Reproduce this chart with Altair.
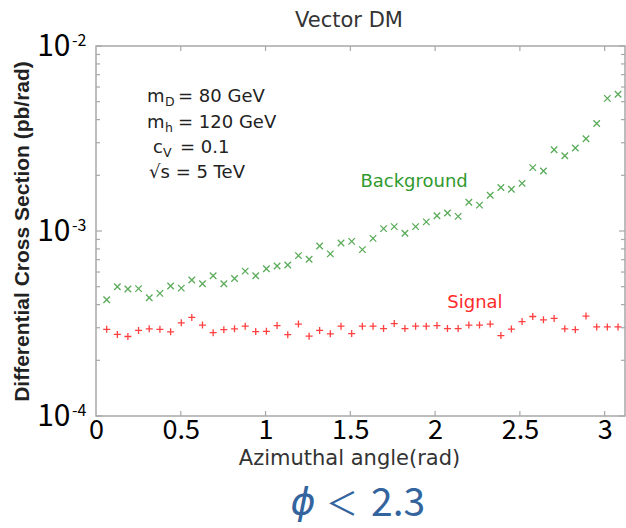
import altair as alt
import pandas as pd

# ---------------- data ----------------
angle = [0.063, 0.126, 0.188, 0.251, 0.314, 0.377, 0.440, 0.503, 0.565, 0.628,
         0.691, 0.754, 0.817, 0.880, 0.942, 1.005, 1.068, 1.131, 1.194, 1.257,
         1.319, 1.382, 1.445, 1.508, 1.571, 1.634, 1.696, 1.759, 1.822, 1.885,
         1.948, 2.011, 2.073, 2.136, 2.199, 2.262, 2.325, 2.388, 2.450, 2.513,
         2.576, 2.639, 2.702, 2.765, 2.827, 2.890, 2.953, 3.016, 3.079]

background = [4.25, 5.00, 4.86, 4.88, 4.36, 4.60, 5.04, 4.91, 5.43, 5.19,
              5.73, 5.19, 5.54, 6.07, 5.73, 6.25, 6.47, 6.55, 7.36, 7.03,
              8.29, 7.52, 8.61, 8.79, 7.93, 9.12, 10.3, 10.56, 9.72, 10.56,
              11.2, 12.1, 12.5, 12.0, 14.3, 13.8, 15.6, 17.2, 16.8, 18.1,
              22.0, 21.1, 27.5, 25.5, 28.1, 31.5, 38.1, 52.1, 54.9]  # x 1e-4

signal = [2.94, 2.76, 2.69, 2.90, 2.96, 2.94, 2.85, 3.19, 3.41, 3.10,
          2.82, 2.93, 2.96, 3.06, 2.86, 2.87, 3.08, 2.75, 3.14, 2.70,
          2.90, 2.78, 3.06, 2.79, 3.06, 3.06, 2.97, 3.16, 2.97, 3.06,
          3.06, 3.08, 2.97, 2.97, 3.10, 3.10, 3.14, 2.72, 2.95, 3.24,
          3.45, 3.31, 3.37, 2.96, 2.93, 3.47, 3.03, 3.03, 3.03]  # x 1e-4

x_ticks = [0, 0.5, 1, 1.5, 2, 2.5, 3]
y_major = [1e-4, 1e-3, 1e-2]
y_exp = ["-4", "-3", "-2"]
y_minor = [2e-4, 3e-4, 4e-4, 5e-4, 6e-4, 7e-4, 8e-4, 9e-4,
           2e-3, 3e-3, 4e-3, 5e-3, 6e-3, 7e-3, 8e-3, 9e-3]

title_text = "Vector DM"
x_title = "Azimuthal angle(rad)"
y_title = "Differential Cross Section (pb/rad)"

# annotation block (data coordinates)
ann_x = [0.301, 0.301, 0.336, 0.313]
ann_y = [5.30e-3, 3.84e-3, 2.81e-3, 2.06e-3]
ann_main = ["m", "m", "c", "\u221as = 5 TeV"]
ann_sub = ["D", "h", "V", ""]
ann_rest = ["= 80 GeV", "= 120 GeV", "= 0.1", ""]
ann_kind = ["m", "m", "c", "s"]

lab_text = ["Background", "Signal"]
lab_x = [1.876, 2.235]
lab_y = [1.84e-3, 4.08e-4]

# ---------------- frames ----------------
bg = pd.DataFrame({"x": angle, "y": [v * 1e-4 for v in background]})
sg = pd.DataFrame({"x": angle, "y": [v * 1e-4 for v in signal]})
ann = pd.DataFrame({"x": ann_x, "y": ann_y, "main": ann_main, "sub": ann_sub,
                    "rest": ann_rest, "kind": ann_kind})
labs = pd.DataFrame({"x": lab_x, "y": lab_y, "t": lab_text})
ymaj = pd.DataFrame({"y": y_major, "t": y_exp})
ymin = pd.DataFrame({"y": y_minor})
xt = pd.DataFrame({"x": x_ticks[1:]})

W, H = 529, 370
xscale = alt.Scale(domain=[0, 3.12], nice=False, zero=False)
yscale = alt.Scale(type="log", domain=[1e-4, 1e-2], nice=False)

TICK_FONT = "Noto Sans CJK SC"
TXT_FONT = "DejaVu Sans"
AX = "#a8a8a8"

xaxis = alt.Axis(values=x_ticks, format=".1~f", ticks=False, domain=False, grid=False,
                 labelFont=TICK_FONT, labelFontSize=27, labelColor="black",
                 labelPadding=1, labelFlush=False, labelOverlap=False,
                 title=x_title, titleFont=TXT_FONT, titleFontSize=21,
                 titleFontWeight="normal", titleColor="#333333",
                 titleX=253, titleY=42, titleBaseline="middle", titleAlign="center")
yaxis = alt.Axis(values=y_major, labelExpr="'10'", ticks=False, domain=False, grid=False,
                 labelFont=TICK_FONT, labelFontSize=30, labelColor="black",
                 labelPadding=26, labelOverlap=False, labelFlush=False,
                 title=y_title, titleFont="Liberation Sans", titleFontSize=21,
                 titleFontWeight="bold", titleColor="#222222",
                 titleX=-74, titleY=H / 2, titleAngle=-90,
                 titleBaseline="middle", titleAlign="center")


def X():
    return alt.X("x:Q", scale=xscale, axis=xaxis, title=x_title)


def Y():
    return alt.Y("y:Q", scale=yscale, axis=yaxis, title=y_title)


X_PATH = "M-1,-1L1,1M-1,1L1,-1"
P_PATH = "M-1,0L1,0M0,-1L0,1"

bg_layer = alt.Chart(bg).mark_point(shape=X_PATH, filled=False, size=42,
                                    strokeWidth=1.3, color="#5aab5a", opacity=1).encode(
    x=X(), y=Y())
sg_layer = alt.Chart(sg).mark_point(shape=P_PATH, filled=False, size=49,
                                    strokeWidth=1.3, color="#ff4040", opacity=1).encode(
    x=X(), y=Y())

# inside ticks
left_minor = alt.Chart(ymin).mark_rule(color=AX, strokeWidth=1.2).encode(
    y=Y(), x=alt.value(0), x2=alt.value(4))
right_minor = alt.Chart(ymin).mark_rule(color=AX, strokeWidth=1.2).encode(
    y=Y(), x=alt.value(W), x2=alt.value(W - 4))
left_major = alt.Chart(ymaj).mark_rule(color=AX, strokeWidth=1.2).encode(
    y=Y(), x=alt.value(0), x2=alt.value(6))
right_major = alt.Chart(ymaj).mark_rule(color=AX, strokeWidth=1.2).encode(
    y=Y(), x=alt.value(W), x2=alt.value(W - 6))
top_ticks = alt.Chart(xt).mark_rule(color=AX, strokeWidth=1.2).encode(
    x=X(), y=alt.value(0), y2=alt.value(5))
bot_ticks = alt.Chart(xt).mark_rule(color=AX, strokeWidth=1.2).encode(
    x=X(), y=alt.value(H), y2=alt.value(H - 5))

# exponents of the y labels
exps = alt.Chart(ymaj).mark_text(font=TICK_FONT, fontSize=16, align="left",
                                 baseline="middle", dy=-5, color="black").encode(
    y=Y(), x=alt.value(-24), text="t:N")


# annotation block
def ann_text(field, kind, dx, dy, size, filt=True):
    c = alt.Chart(ann)
    if filt:
        c = c.transform_filter(alt.FieldOneOfPredicate(field="kind", oneOf=kind))
    return c.mark_text(font=TXT_FONT, fontSize=size, align="left", baseline="middle",
                       dx=dx, dy=dy, color="#222222").encode(
        x=X(), y=Y(), text=f"{field}:N")


ann_main_l = ann_text("main", [], 0, 0, 18, filt=False)
ann_sub_m = ann_text("sub", ["m"], 18, 5, 12.5)
ann_sub_c = ann_text("sub", ["c"], 10, 5, 12.5)
ann_rest_m = ann_text("rest", ["m"], 31, 0, 18)
ann_rest_c = ann_text("rest", ["c"], 27, 0, 18)

labels = alt.Chart(labs).mark_text(font=TXT_FONT, fontSize=18, align="center",
                                   baseline="middle").encode(
    x=X(), y=Y(),
    text="t:N",
    color=alt.Color("t:N", scale=alt.Scale(domain=lab_text, range=["#2f9a2f", "#ff2a2a"]),
                    legend=None),
)

title_l = alt.Chart(pd.DataFrame({"t": [title_text]})).mark_text(
    font=TXT_FONT, fontSize=21, color="#333333", align="center", baseline="middle").encode(
    x=alt.value(253), y=alt.value(-25), text="t:N")

phi_l = alt.Chart(pd.DataFrame({"t": ["\u03d5"]})).mark_text(
    font=TXT_FONT, fontSize=38, fontStyle="italic", color="#33649e",
    align="center", baseline="middle").encode(
    x=alt.value(207), y=alt.value(457), text="t:N")
lt_l = alt.Chart(pd.DataFrame({"t": ["\uff1c"]})).mark_text(
    font="Noto Sans CJK SC", fontSize=32, color="#33649e",
    align="center", baseline="middle").encode(
    x=alt.value(246), y=alt.value(459), text="t:N")
num_l = alt.Chart(pd.DataFrame({"t": ["2.3"]})).mark_text(
    font="Noto Sans CJK SC", fontSize=39, color="#33649e",
    align="left", baseline="middle").encode(
    x=alt.value(275), y=alt.value(458), text="t:N")

chart = alt.layer(
    bg_layer, sg_layer,
    left_minor, right_minor, left_major, right_major, top_ticks, bot_ticks,
    exps, ann_main_l, ann_sub_m, ann_sub_c, ann_rest_m, ann_rest_c,
    labels, title_l, phi_l, lt_l, num_l,
).properties(
    width=W, height=H,
    autosize=alt.AutoSizeParams(type="none"),
    padding={"left": 96, "top": 46, "right": 1, "bottom": 112},
    background="white",
).configure_view(stroke=AX, strokeWidth=1.5)

chart.save("out.html", embed_options={"renderer": "svg", "actions": False})
